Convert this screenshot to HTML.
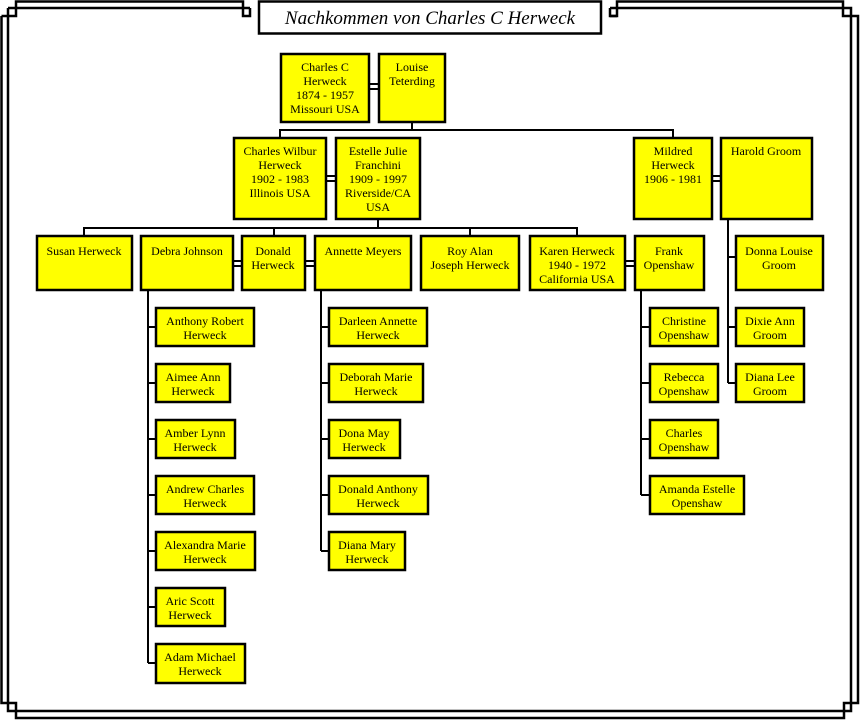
<!DOCTYPE html>
<html><head><meta charset="utf-8"><style>
html,body{margin:0;padding:0;background:#fff;}
svg{display:block;}
.b{fill:#ffff00;stroke:#000;stroke-width:2.5;}
.l{stroke:#000;stroke-width:2;fill:none;}
text{font-family:"Liberation Serif",serif;font-size:12px;fill:#000;text-anchor:middle;}
</style></head><body>
<svg width="860" height="720" viewBox="0 0 860 720" xmlns="http://www.w3.org/2000/svg">
<!-- frame -->
<g class="l" stroke-width="2.5" style="stroke-width:2.5">
<path d="M1.5,16 V703 H16 V718 H844 V703 H858 V16 H843 V1.5 H617 V16 H610"/>
<path d="M1.5,16 H16 V1.5 H243 V16 H250 V8"/>
<path d="M8,8 H250 M610,8 H851 V711 H8 V8"/>
<path d="M610,8 V16 H617"/>
</g>
<rect x="259" y="1.5" width="342" height="32" fill="#fff" stroke="#000" stroke-width="2.5"/>
<text x="430" y="24" style="font-size:19px;font-style:italic">Nachkommen von Charles C Herweck</text>

<!-- connectors -->
<g class="l">
<path d="M369,84 H379 M369,89 H379"/>
<path d="M412,122 V130 M280,138 V130 H673 V138"/>
<path d="M326,176 H336 M326,181 H336"/>
<path d="M712,176 H721 M712,181 H721"/>
<path d="M378,219 V228 M84,236 V228 H577 V236 M274,228 V236 M470,228 V236"/>
<path d="M233,261 H242 M233,266 H242 M305,261 H315 M305,266 H315 M625,261 H635 M625,266 H635"/>
<path d="M148,290 V663 M148,327 H156 M148,383 H156 M148,439 H156 M148,495 H156 M148,551 H156 M148,607 H156 M148,663 H156"/>
<path d="M321,290 V551 M321,327 H329 M321,383 H329 M321,439 H329 M321,495 H329 M321,551 H329"/>
<path d="M641,290 V495 M641,327 H650 M641,383 H650 M641,439 H650 M641,495 H650"/>
<path d="M728,219 V383 M728,257 H736 M728,327 H736 M728,383 H736"/>
</g>

<!-- boxes -->
<rect class="b" x="281" y="54" width="88" height="68"/>
<text x="325" y="71">Charles C<tspan x="325" dy="14">Herweck</tspan><tspan x="325" dy="14">1874 - 1957</tspan><tspan x="325" dy="14">Missouri USA</tspan></text>
<rect class="b" x="379" y="54" width="66" height="68"/>
<text x="412" y="71">Louise<tspan x="412" dy="14">Teterding</tspan></text>

<rect class="b" x="234" y="138" width="92" height="81"/>
<text x="280" y="155">Charles Wilbur<tspan x="280" dy="14">Herweck</tspan><tspan x="280" dy="14">1902 - 1983</tspan><tspan x="280" dy="14">Illinois USA</tspan></text>
<rect class="b" x="336" y="138" width="84" height="81"/>
<text x="378" y="155">Estelle Julie<tspan x="378" dy="14">Franchini</tspan><tspan x="378" dy="14">1909 - 1997</tspan><tspan x="378" dy="14">Riverside/CA</tspan><tspan x="378" dy="14">USA</tspan></text>
<rect class="b" x="634" y="138" width="78" height="81"/>
<text x="673" y="155">Mildred<tspan x="673" dy="14">Herweck</tspan><tspan x="673" dy="14">1906 - 1981</tspan></text>
<rect class="b" x="721" y="138" width="91" height="81"/>
<text x="766" y="155">Harold Groom</text>

<rect class="b" x="37" y="236" width="95" height="54"/>
<text x="84" y="255">Susan Herweck</text>
<rect class="b" x="141" y="236" width="92" height="54"/>
<text x="187" y="255">Debra Johnson</text>
<rect class="b" x="242" y="236" width="63" height="54"/>
<text x="273" y="255">Donald<tspan x="273" dy="14">Herweck</tspan></text>
<rect class="b" x="315" y="236" width="96" height="54"/>
<text x="363" y="255">Annette Meyers</text>
<rect class="b" x="421" y="236" width="98" height="54"/>
<text x="470" y="255">Roy Alan<tspan x="470" dy="14">Joseph Herweck</tspan></text>
<rect class="b" x="530" y="236" width="95" height="54"/>
<text x="577" y="255">Karen Herweck<tspan x="577" dy="14">1940 - 1972</tspan><tspan x="577" dy="14">California USA</tspan></text>
<rect class="b" x="635" y="236" width="69" height="54"/>
<text x="669" y="255">Frank<tspan x="669" dy="14">Openshaw</tspan></text>
<rect class="b" x="736" y="236" width="87" height="54"/>
<text x="779" y="255">Donna Louise<tspan x="779" dy="14">Groom</tspan></text>

<!-- Debra kids -->
<rect class="b" x="156" y="308" width="98" height="38"/>
<text x="205" y="325">Anthony Robert<tspan x="205" dy="14">Herweck</tspan></text>
<rect class="b" x="156" y="364" width="74" height="38"/>
<text x="193" y="381">Aimee Ann<tspan x="193" dy="14">Herweck</tspan></text>
<rect class="b" x="156" y="420" width="79" height="38"/>
<text x="195" y="437">Amber Lynn<tspan x="195" dy="14">Herweck</tspan></text>
<rect class="b" x="156" y="476" width="98" height="38"/>
<text x="205" y="493">Andrew Charles<tspan x="205" dy="14">Herweck</tspan></text>
<rect class="b" x="156" y="532" width="99" height="38"/>
<text x="205" y="549">Alexandra Marie<tspan x="205" dy="14">Herweck</tspan></text>
<rect class="b" x="156" y="588" width="69" height="38"/>
<text x="190" y="605">Aric Scott<tspan x="190" dy="14">Herweck</tspan></text>
<rect class="b" x="156" y="644" width="89" height="39"/>
<text x="200" y="661">Adam Michael<tspan x="200" dy="14">Herweck</tspan></text>

<!-- Annette kids -->
<rect class="b" x="329" y="308" width="98" height="38"/>
<text x="378" y="325">Darleen Annette<tspan x="378" dy="14">Herweck</tspan></text>
<rect class="b" x="329" y="364" width="94" height="38"/>
<text x="376" y="381">Deborah Marie<tspan x="376" dy="14">Herweck</tspan></text>
<rect class="b" x="329" y="420" width="71" height="38"/>
<text x="364" y="437">Dona May<tspan x="364" dy="14">Herweck</tspan></text>
<rect class="b" x="329" y="476" width="99" height="38"/>
<text x="378" y="493">Donald Anthony<tspan x="378" dy="14">Herweck</tspan></text>
<rect class="b" x="329" y="532" width="76" height="38"/>
<text x="367" y="549">Diana Mary<tspan x="367" dy="14">Herweck</tspan></text>

<!-- Frank kids -->
<rect class="b" x="650" y="308" width="68" height="38"/>
<text x="684" y="325">Christine<tspan x="684" dy="14">Openshaw</tspan></text>
<rect class="b" x="650" y="364" width="68" height="38"/>
<text x="684" y="381">Rebecca<tspan x="684" dy="14">Openshaw</tspan></text>
<rect class="b" x="650" y="420" width="68" height="38"/>
<text x="684" y="437">Charles<tspan x="684" dy="14">Openshaw</tspan></text>
<rect class="b" x="650" y="476" width="94" height="38"/>
<text x="697" y="493">Amanda Estelle<tspan x="697" dy="14">Openshaw</tspan></text>

<!-- Groom kids -->
<rect class="b" x="736" y="308" width="68" height="38"/>
<text x="770" y="325">Dixie Ann<tspan x="770" dy="14">Groom</tspan></text>
<rect class="b" x="736" y="364" width="68" height="38"/>
<text x="770" y="381">Diana Lee<tspan x="770" dy="14">Groom</tspan></text>
</svg>
</body></html>
